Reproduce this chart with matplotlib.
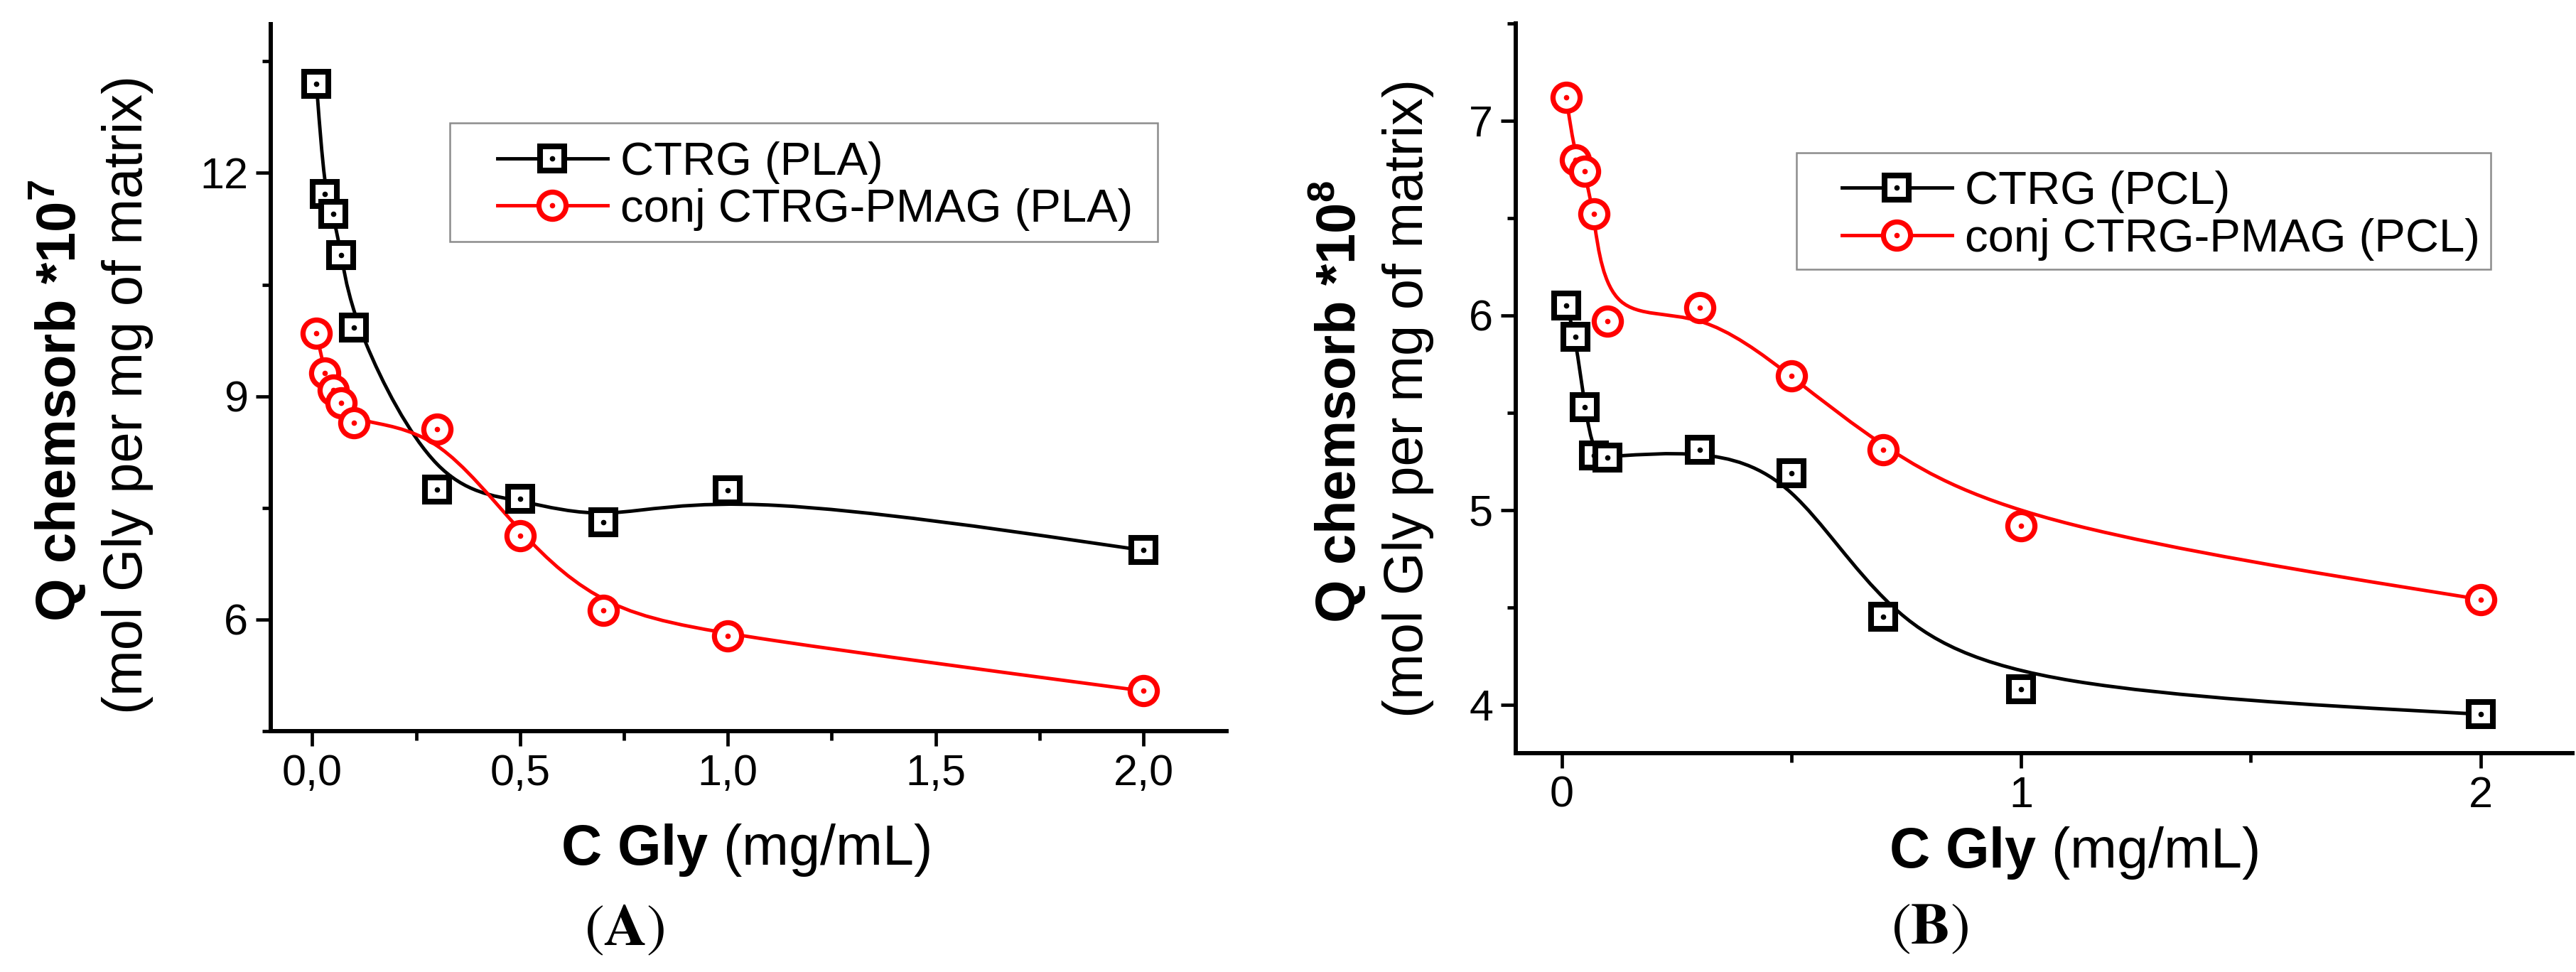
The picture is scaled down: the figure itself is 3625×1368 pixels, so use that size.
import numpy as np
import matplotlib
matplotlib.use('Agg')
import matplotlib.pyplot as plt
from matplotlib.path import Path
from matplotlib.patches import PathPatch, Rectangle
from matplotlib.lines import Line2D
from matplotlib.legend_handler import HandlerTuple
from matplotlib.ticker import MultipleLocator, FuncFormatter

plt.rcParams['font.family'] = ['Liberation Sans', 'DejaVu Sans']
plt.rcParams['mathtext.fontset'] = 'custom'
plt.rcParams['mathtext.rm'] = 'Liberation Sans'
plt.rcParams['mathtext.bf'] = 'Liberation Sans:bold'
plt.rcParams['mathtext.it'] = 'Liberation Sans:italic'

# data (Q values in units of 1e-7 for PLA, 1e-8 for PCL)
c_gly = [0.01, 0.03, 0.05, 0.07, 0.1, 0.3, 0.5, 0.7, 1.0, 2.0]
pla_ctrg = [13.2, 11.72, 11.45, 10.9, 9.92, 7.75, 7.62, 7.31, 7.74, 6.93]
pla_conj = [9.85, 9.31, 9.08, 8.91, 8.64, 8.56, 7.13, 6.12, 5.78, 5.04]
pcl_ctrg = [6.05, 5.89, 5.53, 5.28, 5.27, 5.31, 5.19, 4.45, 4.08, 3.95]
pcl_conj = [7.12, 6.80, 6.74, 6.52, 5.97, 6.04, 5.69, 5.31, 4.92, 4.54]

labels_a = ['CTRG (PLA)', 'conj CTRG-PMAG (PLA)']
labels_b = ['CTRG (PCL)', 'conj CTRG-PMAG (PCL)']

W, H = 3625, 1368
fig = plt.figure(figsize=(W / 100, H / 100), dpi=100)


def px(x, y):
    return (x / W, 1 - y / H)


def bspline(xs, ys):
    # cubic B-spline with the points as control points (Origin style connector)
    pts = np.column_stack([xs, ys]).astype(float)
    q = np.vstack([pts[:1], pts[:1], pts, pts[-1:], pts[-1:]])
    verts = [q[2]]
    codes = [Path.MOVETO]
    for i in range(1, len(q) - 2):
        verts += [(2 * q[i] + q[i + 1]) / 3,
                  (q[i] + 2 * q[i + 1]) / 3,
                  (q[i] + 4 * q[i + 1] + q[i + 2]) / 6]
        codes += [Path.CURVE4] * 3
    return Path(verts, codes)


def draw_series(ax, xs, ys, color, marker, ms, mew):
    ax.add_patch(PathPatch(bspline(xs, ys), fill=False, edgecolor=color, lw=3.5, zorder=2))
    ax.plot(xs, ys, ls='none', marker=marker, ms=ms, mfc='white', mec=color, mew=mew, zorder=3)
    dot, = ax.plot(xs, ys, ls='none', marker='o', ms=5.5, mfc=color, mec='none', zorder=4)
    proxy = Line2D([], [], color=color, lw=3.5, marker=marker, ms=ms, mfc='white', mec=color, mew=mew)
    return (proxy, dot)


def style_axes(ax):
    for s in ['top', 'right']:
        ax.spines[s].set_visible(False)
    for s in ['left', 'bottom']:
        ax.spines[s].set_linewidth(4.3)
    ax.tick_params(which='major', direction='out', length=15, width=3.4, labelsize=44, pad=8)
    ax.tick_params(which='minor', direction='out', length=9, width=3.4)


# ---- panel A ----
axA = fig.add_axes([381 / W, 1 - 1029 / H, (1726 - 381) / W, (1029 - 34) / H])
hA1 = draw_series(axA, c_gly, pla_ctrg, 'black', 's', 24.5, 5.8)
hA2 = draw_series(axA, c_gly, pla_conj, 'red', 'o', 27.5, 5.2)
axA.set_xlim(-0.1, 2.2)
axA.set_ylim(4.5, 14.0)
axA.xaxis.set_major_locator(MultipleLocator(0.5))
axA.xaxis.set_minor_locator(MultipleLocator(0.25))
axA.xaxis.set_major_formatter(FuncFormatter(lambda v, p: f'{v:.1f}'.replace('.', ',')))
axA.yaxis.set_major_locator(MultipleLocator(3))
axA.yaxis.set_minor_locator(MultipleLocator(1.5))
style_axes(axA)

axA.legend([hA1, hA2], labels_a, loc='center left', bbox_to_anchor=px(700, 262),
           bbox_transform=fig.transFigure, frameon=False, fontsize=47, handlelength=2.37,
           handletextpad=0.28, borderpad=0, borderaxespad=0, labelspacing=0.1,
           handler_map={tuple: HandlerTuple(ndivide=1)})
fig.add_artist(Rectangle(px(633, 340), 996 / W, 167 / H, transform=fig.transFigure,
                         fill=False, edgecolor='#8c8c8c', lw=1.8))

fig.text(*px(81, 564), r'Q chemsorb *10$^{\mathbf{7}}$', rotation=90, fontsize=56,
         fontweight='bold', ha='center', va='center')
fig.text(*px(180, 555), '(mol Gly per mg of matrix)', rotation=90, fontsize=56,
         ha='center', va='center')
fig.text(*px(1049, 1197), r'$\mathbf{C\ Gly}$ (mg/mL)', fontsize=57, ha='center', va='center')
fig.text(*px(879, 1308), r'$(\mathbf{A})$', fontsize=60, math_fontfamily='stix',
         ha='center', va='center')

# ---- panel B ----
axB = fig.add_axes([2133 / W, 1 - 1060 / H, (3620 - 2133) / W, (1060 - 33) / H])
hB1 = draw_series(axB, c_gly, pcl_ctrg, 'black', 's', 24.5, 5.8)
hB2 = draw_series(axB, c_gly, pcl_conj, 'red', 'o', 27.5, 5.2)
axB.set_xlim(-0.1, 2.2)
axB.set_ylim(3.75, 7.5)
axB.xaxis.set_major_locator(MultipleLocator(1))
axB.xaxis.set_minor_locator(MultipleLocator(0.5))
axB.yaxis.set_major_locator(MultipleLocator(1))
axB.yaxis.set_minor_locator(MultipleLocator(0.5))
style_axes(axB)

axB.legend([hB1, hB2], labels_b, loc='center left', bbox_to_anchor=px(2592, 303.5),
           bbox_transform=fig.transFigure, frameon=False, fontsize=47, handlelength=2.37,
           handletextpad=0.28, borderpad=0, borderaxespad=0, labelspacing=0.1,
           handler_map={tuple: HandlerTuple(ndivide=1)})
fig.add_artist(Rectangle(px(2528, 379), 977 / W, 164 / H, transform=fig.transFigure,
                         fill=False, edgecolor='#8c8c8c', lw=1.8))

fig.text(*px(1882, 565), r'Q chemsorb *10$^{\mathbf{8}}$', rotation=90, fontsize=56,
         fontweight='bold', ha='center', va='center')
fig.text(*px(1982, 560), '(mol Gly per mg of matrix)', rotation=90, fontsize=56,
         ha='center', va='center')
fig.text(*px(2918, 1200), r'$\mathbf{C\ Gly}$ (mg/mL)', fontsize=57, ha='center', va='center')
fig.text(*px(2716, 1306), r'$(\mathbf{B})$', fontsize=60, math_fontfamily='stix',
         ha='center', va='center')

fig.savefig('out.png', dpi=100)
